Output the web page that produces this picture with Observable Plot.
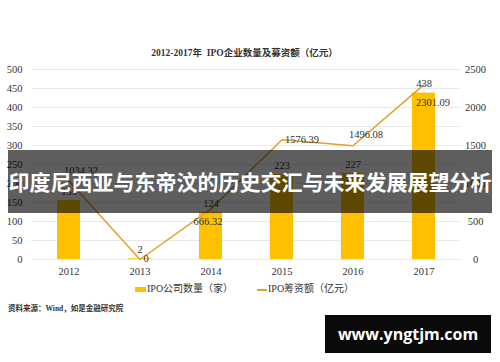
<!DOCTYPE html>
<html><head><meta charset="utf-8">
<script src="https://cdn.jsdelivr.net/npm/d3@7"></script>
<script src="https://cdn.jsdelivr.net/npm/@observablehq/plot@0.6"></script>
<style>
body{margin:0;background:#fff;}
#wrap{position:relative;width:500px;height:362px;overflow:hidden;background:#fff;font-family:"Liberation Serif","Noto Sans CJK SC",serif;color:#333;}
#chart{position:absolute;left:0;top:0;}
.title{position:absolute;left:0;width:489px;top:45px;text-align:center;font-size:9.5px;font-weight:bold;color:#333;white-space:pre;}
.legend{position:absolute;top:282px;font-size:10px;color:#333;white-space:nowrap;line-height:14px;}
.sw-bar{position:absolute;width:11px;height:5px;background:#FFC000;top:5px;}
.sw-line{position:absolute;width:10px;height:1.5px;background:#E2A029;top:7px;}
.source{position:absolute;left:8px;top:302px;font-size:7.5px;font-weight:bold;color:#333;white-space:nowrap;}
.band{position:absolute;left:8px;top:150px;width:484px;height:63px;background:rgba(0,0,0,0.63);color:#fff;font-family:"Noto Sans CJK SC",sans-serif;font-weight:bold;font-size:21px;line-height:63px;text-align:center;white-space:nowrap;}
.wm{position:absolute;left:325px;top:315px;width:166px;height:38px;background:#0a0a0a;color:#fff;font-family:"Open Sans","DejaVu Sans",sans-serif;font-weight:bold;font-size:16px;line-height:38px;text-align:center;}
</style></head>
<body><div id="wrap">
<div id="chart"></div>
<div class="title">2012-2017年  IPO企业数量及募资额（亿元）</div>
<div class="legend" style="left:135px;"><span class="sw-bar" style="left:0"></span><span style="margin-left:12px">IPO公司数量（家）</span></div>
<div class="legend" style="left:257px;"><span class="sw-line" style="left:0"></span><span style="margin-left:11px">IPO筹资额（亿元）</span></div>
<div class="source">资料来源：Wind，如是金融研究院</div>
<div class="band">印度尼西亚与东帝汶的历史交汇与未来发展展望分析</div>
<div class="wm">www.yngtjm.com</div>
</div>
<script>
const years = ["2012","2013","2014","2015","2016","2017"];
const ipoCount = [155, 2, 124, 223, 227, 438];
const ipoFunds = [1034.32, 0, 666.32, 1576.39, 1496.08, 2301.09];
const fundLabels = ["1034.32","0","666.32","1576.39","1496.08","2301.09"];
const leftTicks = [0,50,100,150,200,250,300,350,400,450,500];
const rightTicks = [0,500,1000,1500,2000,2500];

const data = years.map((y,i)=>({year:y, count:ipoCount[i], fund:ipoFunds[i], fundLabel:fundLabels[i]}));
const ratio = 2500/500;

const barColor = "#FFC000";
const lineColor = "#E2A029";

// label offsets for the fund line labels (style only)
const fundLabelOffsets = {
  "2012":[12,-10], "2013":[6,-1], "2014":[-3,13], "2015":[20,0], "2016":[13,-11], "2017":[9,18]
};

const marks = [
  Plot.ruleY(leftTicks, {stroke:"#e8e8e8", strokeWidth:1}),
  Plot.barY(data, {x:"year", y:"count", fill:barColor}),
  Plot.line(data, {x:"year", y:d=>d.fund/ratio, stroke:lineColor, strokeWidth:1.5}),
  Plot.text(data, {x:"year", y:"count", text:d=>String(d.count), dy:-9, fill:"#333", fontSize:10.5}),
  ...years.map(yr => Plot.text(data.filter(d=>d.year===yr), {
    x:"year", y:d=>d.fund/ratio, text:"fundLabel",
    dx:fundLabelOffsets[yr][0], dy:fundLabelOffsets[yr][1], fill:"#333", fontSize:10.5
  })),
  Plot.axisY({anchor:"left", ticks:leftTicks, tickSize:0, tickPadding:10, fontSize:10.5, fill:"#333"}),
  Plot.axisY({anchor:"right", ticks:rightTicks.map(v=>v/ratio), tickFormat:d=>String(d*ratio), tickSize:0, tickPadding:15, textAnchor:"middle", fontSize:10.5, fill:"#333"}),
  Plot.axisX({anchor:"bottom", tickSize:0, tickPadding:8, fontSize:10.5, fill:"#333"})
];

const chart = Plot.plot({
  width:500, height:362,
  marginTop:69, marginBottom:103, marginLeft:32, marginRight:40,
  style:{fontFamily:'"Liberation Serif","Noto Sans CJK SC",serif', fontSize:"10.5px", color:"#333", background:"transparent"},
  x:{type:"band", domain:years, paddingInner:0.68, paddingOuter:0.34, label:null},
  y:{domain:[0,500], label:null},
  marks
});
document.getElementById("chart").appendChild(chart);
</script>
</body></html>
